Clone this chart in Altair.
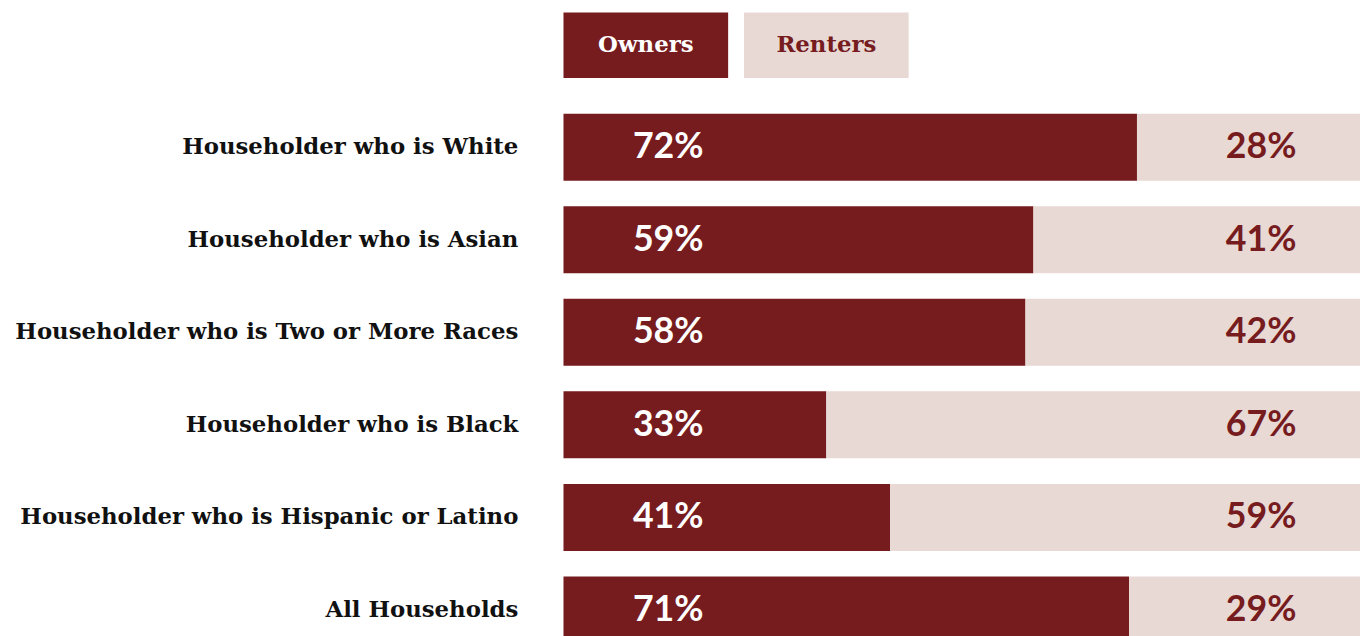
import altair as alt
import pandas as pd

categories = [
    "Householder who is White",
    "Householder who is Asian",
    "Householder who is Two or More Races",
    "Householder who is Black",
    "Householder who is Hispanic or Latino",
    "All Households",
]
owners = [72, 59, 58, 33, 41, 71]
renters = [28, 41, 42, 67, 59, 29]
series = ["Owners", "Renters"]

DARK = "#761c1e"
LIGHT = "#e8d9d5"

rows = []
for c, o, r in zip(categories, owners, renters):
    rows.append({"cat": c, "tenure": "Owners", "val": o, "ord": 0, "label": f"{o}%"})
    rows.append({"cat": c, "tenure": "Renters", "val": r, "ord": 1, "label": f"{r}%"})
df = pd.DataFrame(rows)
leg = pd.DataFrame({"tenure": series})

color = alt.Color("tenure:N", scale=alt.Scale(domain=series, range=[DARK, LIGHT]), legend=None)

legend_x = alt.X("tenure:N", scale=alt.Scale(domain=series, paddingInner=16 / 182, paddingOuter=0), axis=None)
legend_rect = alt.Chart(leg).mark_rect().encode(x=legend_x, color=color)
legend_text = alt.Chart(leg).mark_text(font="DejaVu Serif", fontWeight="bold", fontSize=23, baseline="middle").encode(
    x=legend_x,
    y=alt.value(33),
    text="tenure:N",
    color=alt.Color("tenure:N", scale=alt.Scale(domain=series, range=["#ffffff", DARK]), legend=None),
)
legend_chart = alt.layer(legend_rect, legend_text).properties(width=348, height=66).resolve_scale(color="independent")

y = alt.Y(
    "cat:N",
    sort=categories,
    title=None,
    scale=alt.Scale(paddingInner=0.2765, paddingOuter=0),
    axis=alt.Axis(
        domain=False, ticks=False, labelFont="DejaVu Serif", labelFontWeight="bold",
        labelFontSize=23, labelColor="#111111", labelPadding=46, labelLimit=700,
    ),
)
x = alt.X("val:Q", stack="zero", scale=alt.Scale(domain=[0, 100], nice=False), axis=None)

bars = alt.Chart(df).mark_bar().encode(
    x=x, y=y, color=color, order=alt.Order("ord:Q")
)
own_df = df[df.tenure == "Owners"]
ren_df = df[df.tenure == "Renters"]
own_text = alt.Chart(own_df).mark_text(
    font="Lato", fontWeight="bold", fontSize=36, align="left", dx=70, baseline="middle", color="#ffffff"
).encode(x=alt.datum(0), y=y, text="label:N")
ren_text = alt.Chart(ren_df).mark_text(
    font="Lato", fontWeight="bold", fontSize=36, align="right", dx=-64, baseline="middle", color=DARK
).encode(x=alt.datum(100), y=y, text="label:N")

bar_chart = alt.layer(bars, own_text, ren_text).properties(width=803, height=534)

chart = alt.vconcat(legend_chart, bar_chart, spacing=36).configure(
    padding={"top": 2, "left": 6, "right": 0, "bottom": 0},
).configure_concat(spacing=36).configure_view(stroke=None)
chart = chart.properties(bounds="flush")

chart.save("out.html", embed_options={"renderer": "svg", "actions": False})
